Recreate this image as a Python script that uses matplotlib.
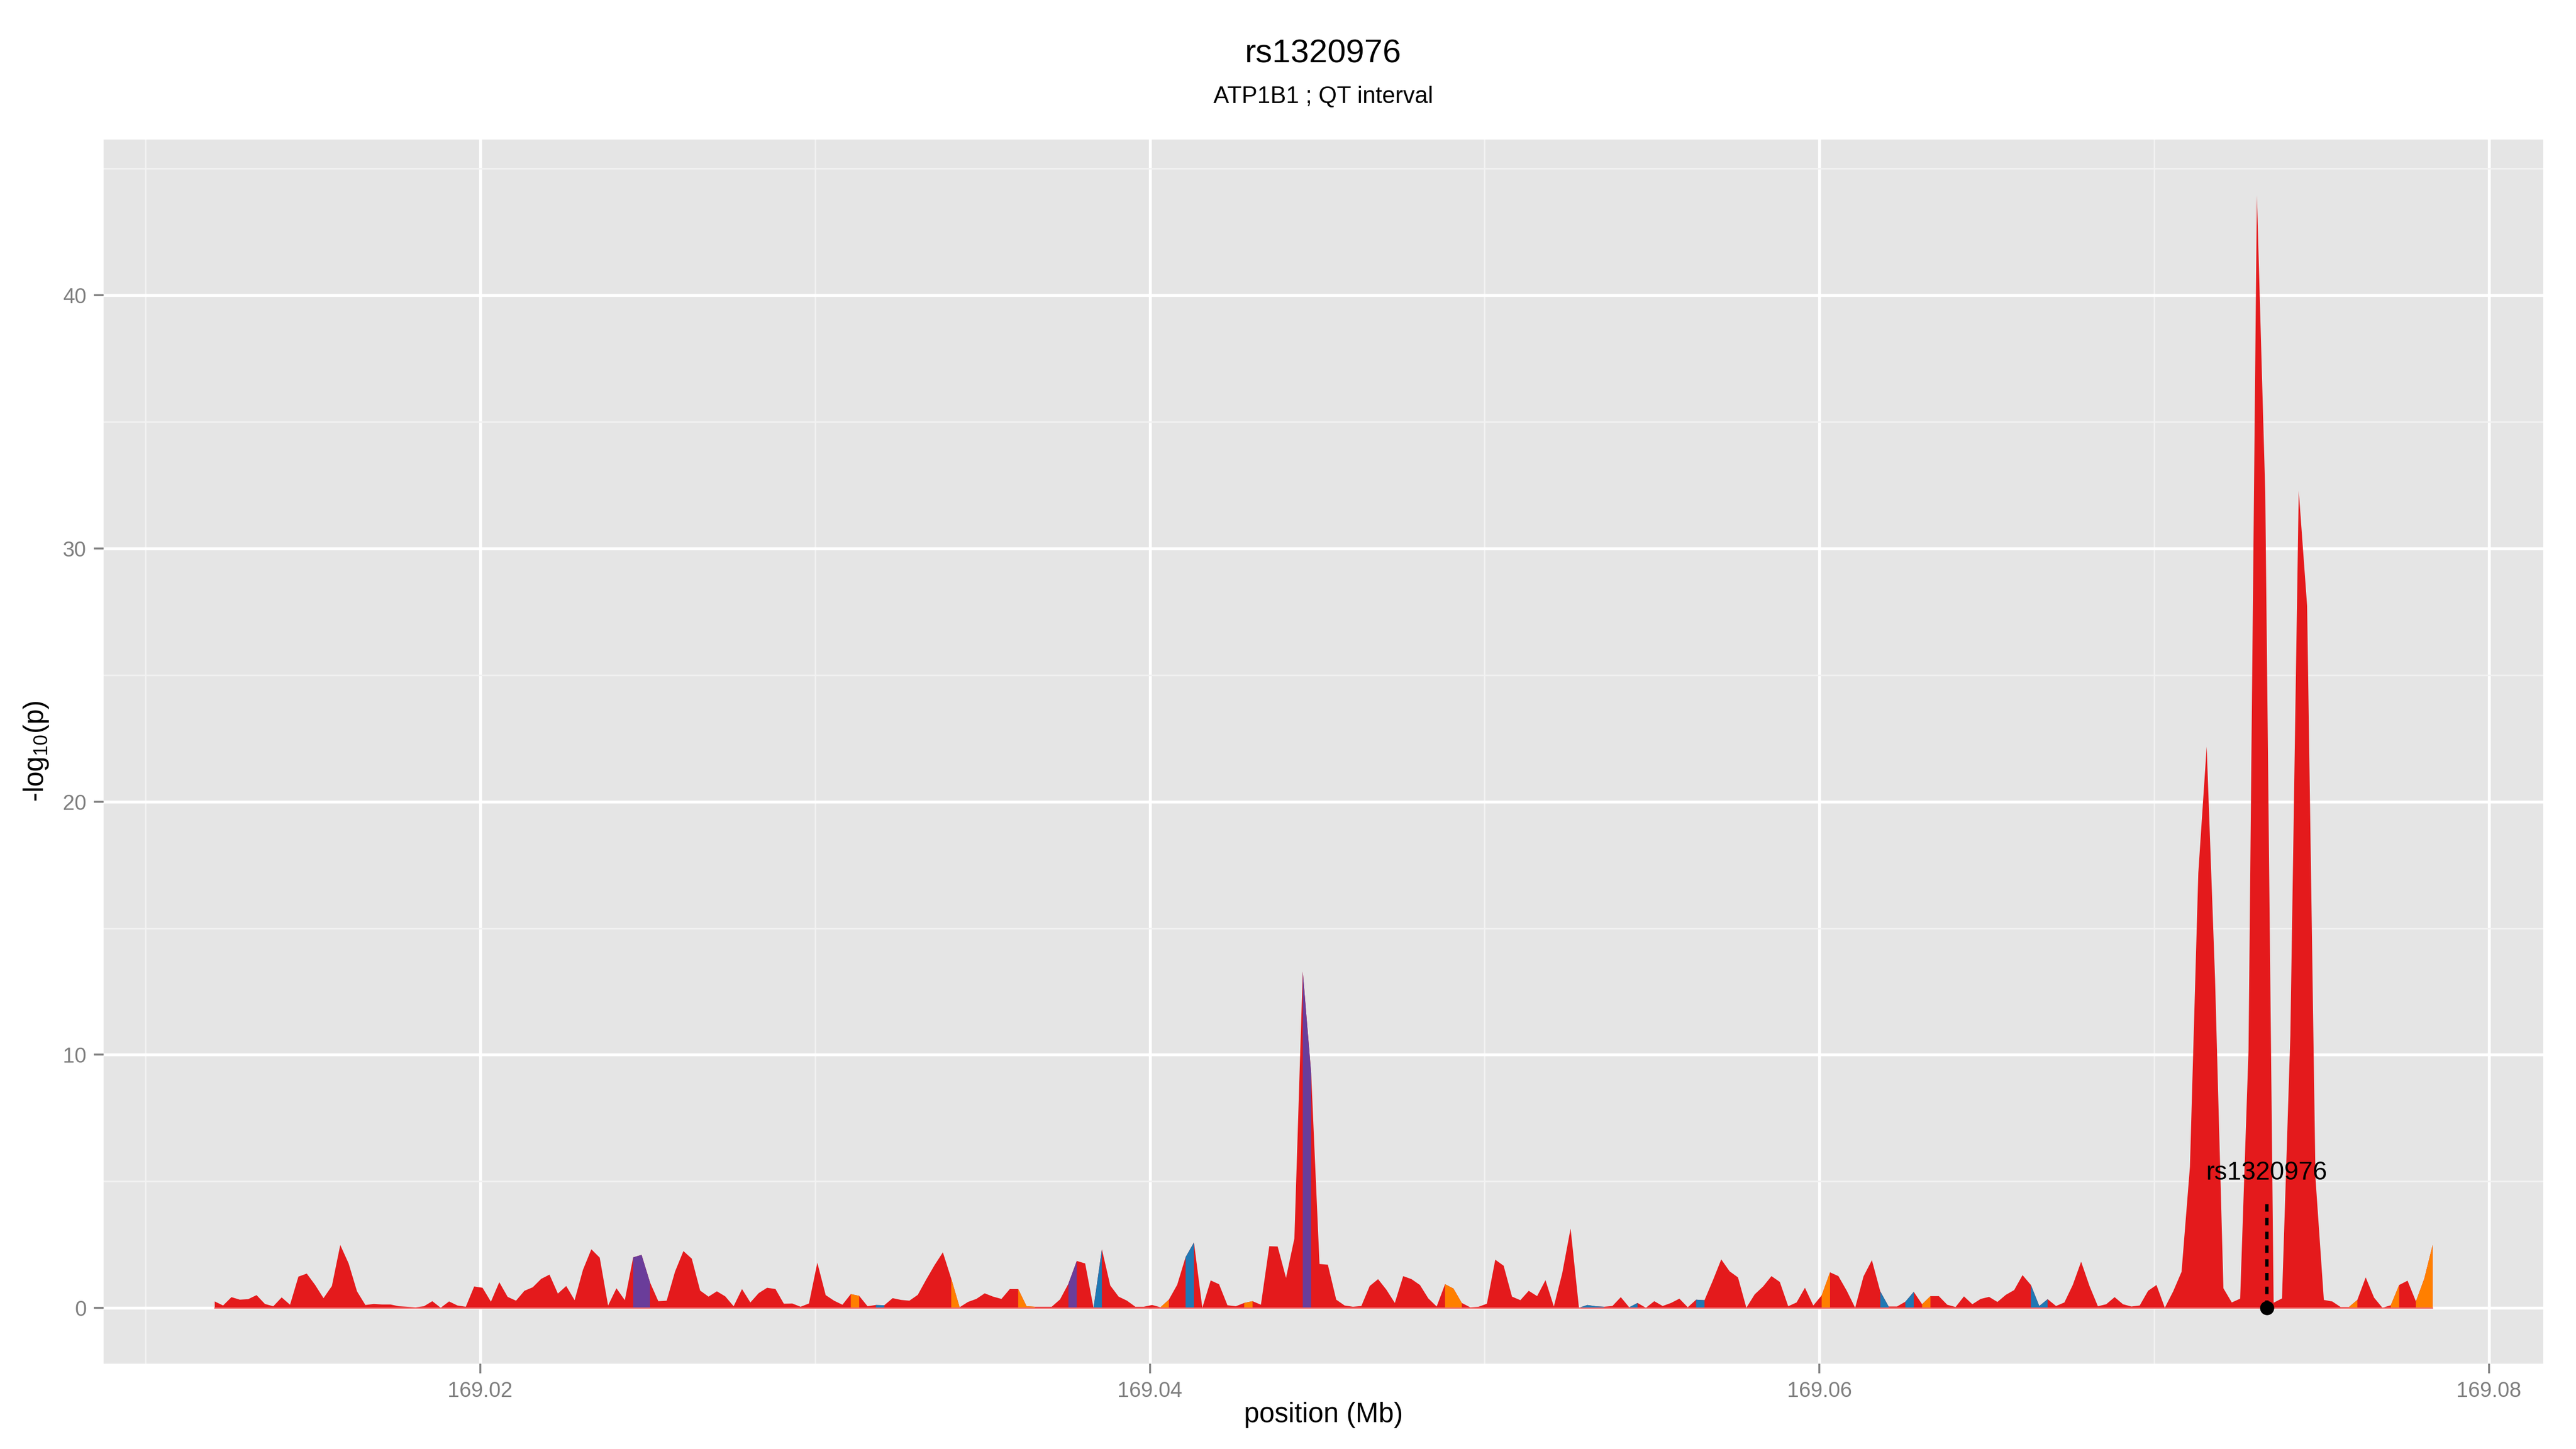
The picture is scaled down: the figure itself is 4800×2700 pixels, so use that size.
import numpy as np
import matplotlib
matplotlib.use("Agg")
import matplotlib.pyplot as plt
from matplotlib.ticker import MultipleLocator

plt.rcParams['font.family'] = ['Liberation Sans', 'DejaVu Sans']
plt.rcParams['mathtext.fontset'] = 'custom'
plt.rcParams['mathtext.rm'] = 'Liberation Sans'
plt.rcParams['mathtext.it'] = 'Liberation Sans:italic'

# ---- data ----
snp = 'rs1320976'
subtitle = 'ATP1B1 ; QT interval'
snp_pos = 169.07337      # Mb
snp_line_top = 4.35
snp_label_y = 5.08

pos_first = 169.01206    # Mb, first grid position
pos_step = 0.00025       # Mb between grid positions

logp = [
    0.27, 0.11, 0.44, 0.34, 0.36, 0.52, 0.17, 0.08, 0.43, 0.14,
    1.25, 1.37, 0.92, 0.40, 0.88, 2.50, 1.77, 0.67, 0.13, 0.17,
    0.15, 0.15, 0.08, 0.06, 0.04, 0.08, 0.28, 0.02, 0.27, 0.11,
    0.06, 0.86, 0.81, 0.26, 1.03, 0.45, 0.30, 0.69, 0.83, 1.16,
    1.33, 0.58, 0.88, 0.32, 1.52,
    2.33, 2.00, 0.11, 0.79, 0.32, 2.01, 2.11, 1.03, 0.28, 0.30,
    1.45, 2.26, 1.96, 0.70, 0.46, 0.67, 0.47, 0.08, 0.76, 0.23,
    0.60, 0.81, 0.76, 0.18, 0.19, 0.06, 0.19, 1.80, 0.52, 0.30,
    0.14, 0.56, 0.49, 0.08, 0.13, 0.12, 0.40, 0.33, 0.30, 0.53,
    1.13, 1.70, 2.21, 1.17, 0.04,
    0.25, 0.37, 0.59, 0.46, 0.37, 0.76, 0.76, 0.08, 0.06, 0.06,
    0.06, 0.35, 0.97, 1.87, 1.77, 0.02, 2.33, 0.90, 0.46, 0.30,
    0.06, 0.06, 0.13, 0.04, 0.34, 0.93, 2.02, 2.60, 0.02, 1.10,
    0.95, 0.12, 0.08, 0.21, 0.28, 0.14, 2.45, 2.44, 1.20, 2.76,
    13.3, 9.3, 1.75, 1.72,
    0.34, 0.11, 0.06, 0.09, 0.88, 1.15, 0.73, 0.21, 1.27, 1.15,
    0.92, 0.39, 0.07, 0.95, 0.78, 0.21, 0.04, 0.06, 0.18, 1.92,
    1.68, 0.46, 0.32, 0.69, 0.48, 1.11, 0.07, 1.38, 3.15, 0.02,
    0.13, 0.08, 0.06, 0.09, 0.44, 0.04, 0.21, 0.02, 0.28, 0.09,
    0.21, 0.38, 0.04, 0.34, 0.32,
    1.10, 1.93, 1.46, 1.22, 0.02, 0.55, 0.86, 1.27, 1.04, 0.08,
    0.23, 0.81, 0.11, 0.51, 1.42, 1.27, 0.69, 0.02, 1.26, 1.90,
    0.67, 0.07, 0.07, 0.26, 0.65, 0.16, 0.48, 0.48, 0.14, 0.05,
    0.47, 0.16, 0.37, 0.45, 0.25, 0.53, 0.72, 1.31, 0.92, 0.09,
    0.36, 0.09, 0.23, 0.92, 1.84,
    0.88, 0.08, 0.16, 0.44, 0.16, 0.07, 0.11, 0.69, 0.92, 0.02,
    0.67, 1.44, 5.59, 17.19, 22.18, 13.02, 0.79, 0.23, 0.38, 10.2,
    43.95, 32.2, 0.22, 0.39, 10.79, 32.29, 27.74, 5.14, 0.33, 0.27,
    0.05, 0.05, 0.33, 1.22, 0.42, 0.02, 0.12, 0.92, 1.09, 0.27,
    1.17, 2.5,
]

# stretches (grid index from..to) drawn in another LD colour, the rest is red
band_start = [50, 102, 130,
              76, 88, 96, 113, 123, 147, 192, 204, 255, 260, 263,
              79, 105, 116, 163, 169, 177, 199, 202, 217]
band_end = [52, 103, 131,
            77, 89, 98, 114, 124, 149, 193, 205, 256, 261, 265,
            80, 106, 117, 166, 170, 178, 200, 203, 219]
band_ld = ['purple'] * 3 + ['orange'] * 11 + ['blue'] * 9

ld_colours = {'red': '#E41A1C', 'orange': '#FF7F00',
              'blue': '#1F78B4', 'purple': '#6A3D9A'}

pos = pos_first + pos_step * np.arange(len(logp))
y = np.array(logp)

fig = plt.figure(figsize=(16, 9), dpi=300)
ax = fig.add_axes([0.0402, 0.0589, 0.9471, 0.8448])
ax.set_facecolor('#E5E5E5')
for s in ax.spines.values():
    s.set_visible(False)

ax.fill_between(pos, 0, y, color=ld_colours['red'], lw=0, zorder=2)
for a, b, c in zip(band_start, band_end, band_ld):
    ax.fill_between(pos[a:b + 1], 0, y[a:b + 1], color=ld_colours[c], lw=0, zorder=3)
ax.plot([pos[0], pos[-1]], [0, 0], color='#EE7070', lw=0.6, zorder=4)

# lead snp marker
ax.plot([snp_pos, snp_pos], [0, snp_line_top], color='black', lw=1.5,
        linestyle=(0, (2.2, 1.9)), zorder=5)
ax.plot([snp_pos], [0], 'o', color='black', ms=5.3, zorder=6)
ax.text(snp_pos, snp_label_y, snp, ha='center', va='baseline', fontsize=11.5, zorder=6)

span = pos[-1] - pos[0]
ax.set_xlim(pos[0] - 0.05 * span, pos[-1] + 0.05 * span)
ax.set_ylim(-0.05 * y.max(), 1.05 * y.max())

ax.set_xticks([169.02, 169.04, 169.06, 169.08])
ax.set_xticklabels(['169.02', '169.04', '169.06', '169.08'])
ax.set_yticks([0, 10, 20, 30, 40])
ax.xaxis.set_minor_locator(MultipleLocator(0.01))
ax.yaxis.set_minor_locator(MultipleLocator(5))

ax.set_axisbelow(True)
ax.grid(which='major', color='white', lw=1.3, zorder=0)
ax.grid(which='minor', color='#F2F2F2', lw=0.65, zorder=0)
ax.tick_params(which='major', length=4.3, width=0.85, color='#7F7F7F',
               labelcolor='#7F7F7F', labelsize=9.5, pad=3.4)
ax.tick_params(which='minor', length=0)

cx = 0.0402 + 0.9471 / 2
fig.text(cx, 0.9626, snp, ha='center', va='center', fontsize=14.8)
fig.text(cx, 0.9331, subtitle, ha='center', va='center', fontsize=10.5)
fig.text(cx, 0.0237, 'position (Mb)', ha='center', va='center', fontsize=12.3)
fig.text(0.014, 0.4815, '-log$_{10}$(p)', ha='center', va='center',
         rotation=90, fontsize=12.3)

fig.savefig('out.png', dpi=300)
